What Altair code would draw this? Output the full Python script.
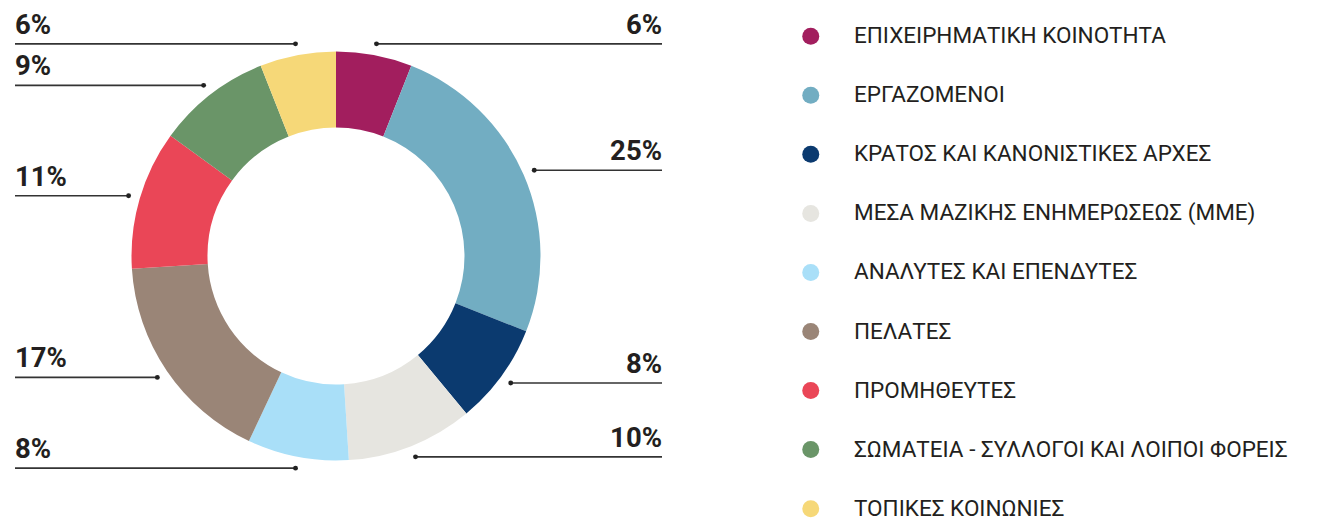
import altair as alt
import pandas as pd

categories = [
    "ΕΠΙΧΕΙΡΗΜΑΤΙΚΗ ΚΟΙΝΟΤΗΤΑ",
    "ΕΡΓΑΖΟΜΕΝΟΙ",
    "ΚΡΑΤΟΣ ΚΑΙ ΚΑΝΟΝΙΣΤΙΚΕΣ ΑΡΧΕΣ",
    "ΜΕΣΑ ΜΑΖΙΚΗΣ ΕΝΗΜΕΡΩΣΕΩΣ (ΜΜΕ)",
    "ΑΝΑΛΥΤΕΣ ΚΑΙ ΕΠΕΝΔΥΤΕΣ",
    "ΠΕΛΑΤΕΣ",
    "ΠΡΟΜΗΘΕΥΤΕΣ",
    "ΣΩΜΑΤΕΙΑ - ΣΥΛΛΟΓΟΙ ΚΑΙ ΛΟΙΠΟΙ ΦΟΡΕΙΣ",
    "ΤΟΠΙΚΕΣ ΚΟΙΝΩΝΙΕΣ",
]
values = [6, 25, 8, 10, 8, 17, 11, 9, 6]
colors = ["#A21E5E", "#72ADC2", "#0B3A6F", "#E6E5E0", "#A9DFF8",
          "#9A8577", "#EA4657", "#6A9568", "#F6D878"]

df = pd.DataFrame({
    "cat": categories,
    "value": values,
    "idx": list(range(len(values))),
    "label": [f"{v}%" for v in values],
})

W, H = 1319, 510
CX, CY = 328, 248
R_OUT, R_IN, R_LEAD = 204.5, 128.5, 216
X_RIGHT, X_LEFT = 654, 7
FONT = "Roboto"
INK = "#231F20"

base = alt.Chart(df)

arc = base.mark_arc(outerRadius=R_OUT, innerRadius=R_IN).encode(
    theta=alt.Theta("value:Q", stack=True),
    color=alt.Color(
        "cat:N",
        scale=alt.Scale(domain=categories, range=colors),
        legend=alt.Legend(
            title=None,
            orient="none",
            legendX=791.5,
            legendY=17,
            direction="vertical",
            columns=1,
            symbolType="circle",
            symbolSize=289,
            symbolStrokeWidth=0,
            symbolOpacity=1,
            labelFont=FONT,
            labelFontSize=22.5,
            labelColor=INK,
            labelOffset=32,
            labelLimit=800,
            rowPadding=36.05,
            padding=0,
        ),
    ),
    order=alt.Order("idx:Q"),
    x=alt.value(CX),
    y=alt.value(CY),
)

lead = base.transform_window(
    cum="sum(value)", sort=[{"field": "idx"}], frame=[None, 0]
).transform_joinaggregate(
    total="sum(value)"
).transform_calculate(
    mid="(datum.cum - datum.value / 2) / datum.total * 2 * PI",
).transform_calculate(
    px=f"{CX} + {R_LEAD} * sin(datum.mid)",
    py=f"{CY} - {R_LEAD} * cos(datum.mid)",
    side='sin(datum.mid) >= 0 ? "right" : "left"',
    ex=f"sin(datum.mid) >= 0 ? {X_RIGHT} : {X_LEFT}",
)

xs = alt.Scale(domain=[0, W], nice=False, zero=False)
ys = alt.Scale(domain=[0, H], nice=False, zero=False, reverse=True)

rule = lead.mark_rule(strokeWidth=1.6, color="#333333").encode(
    x=alt.X("px:Q", scale=xs, axis=None),
    x2="ex:Q",
    y=alt.Y("py:Q", scale=ys, axis=None),
)

dots = lead.mark_circle(size=24, color="#222222", opacity=1).encode(
    x=alt.X("px:Q", scale=xs, axis=None),
    y=alt.Y("py:Q", scale=ys, axis=None),
)

text_r = lead.transform_filter('datum.side == "right"').mark_text(
    align="right", baseline="alphabetic", dy=-10,
    font=FONT, fontWeight="bold", fontSize=27.5, color=INK,
).encode(
    x=alt.X("ex:Q", scale=xs, axis=None),
    y=alt.Y("py:Q", scale=ys, axis=None),
    text="label:N",
)

text_l = lead.transform_filter('datum.side == "left"').mark_text(
    align="left", baseline="alphabetic", dy=-10,
    font=FONT, fontWeight="bold", fontSize=27.5, color=INK,
).encode(
    x=alt.X("ex:Q", scale=xs, axis=None),
    y=alt.Y("py:Q", scale=ys, axis=None),
    text="label:N",
)

chart = alt.layer(arc, rule, dots, text_r, text_l).properties(
    width=W, height=H, padding=0,
    autosize=alt.AutoSizeParams(type="none"),
    background="white",
).configure_view(stroke=None)

chart.save("out.html", embed_options={"renderer": "svg", "actions": False})
